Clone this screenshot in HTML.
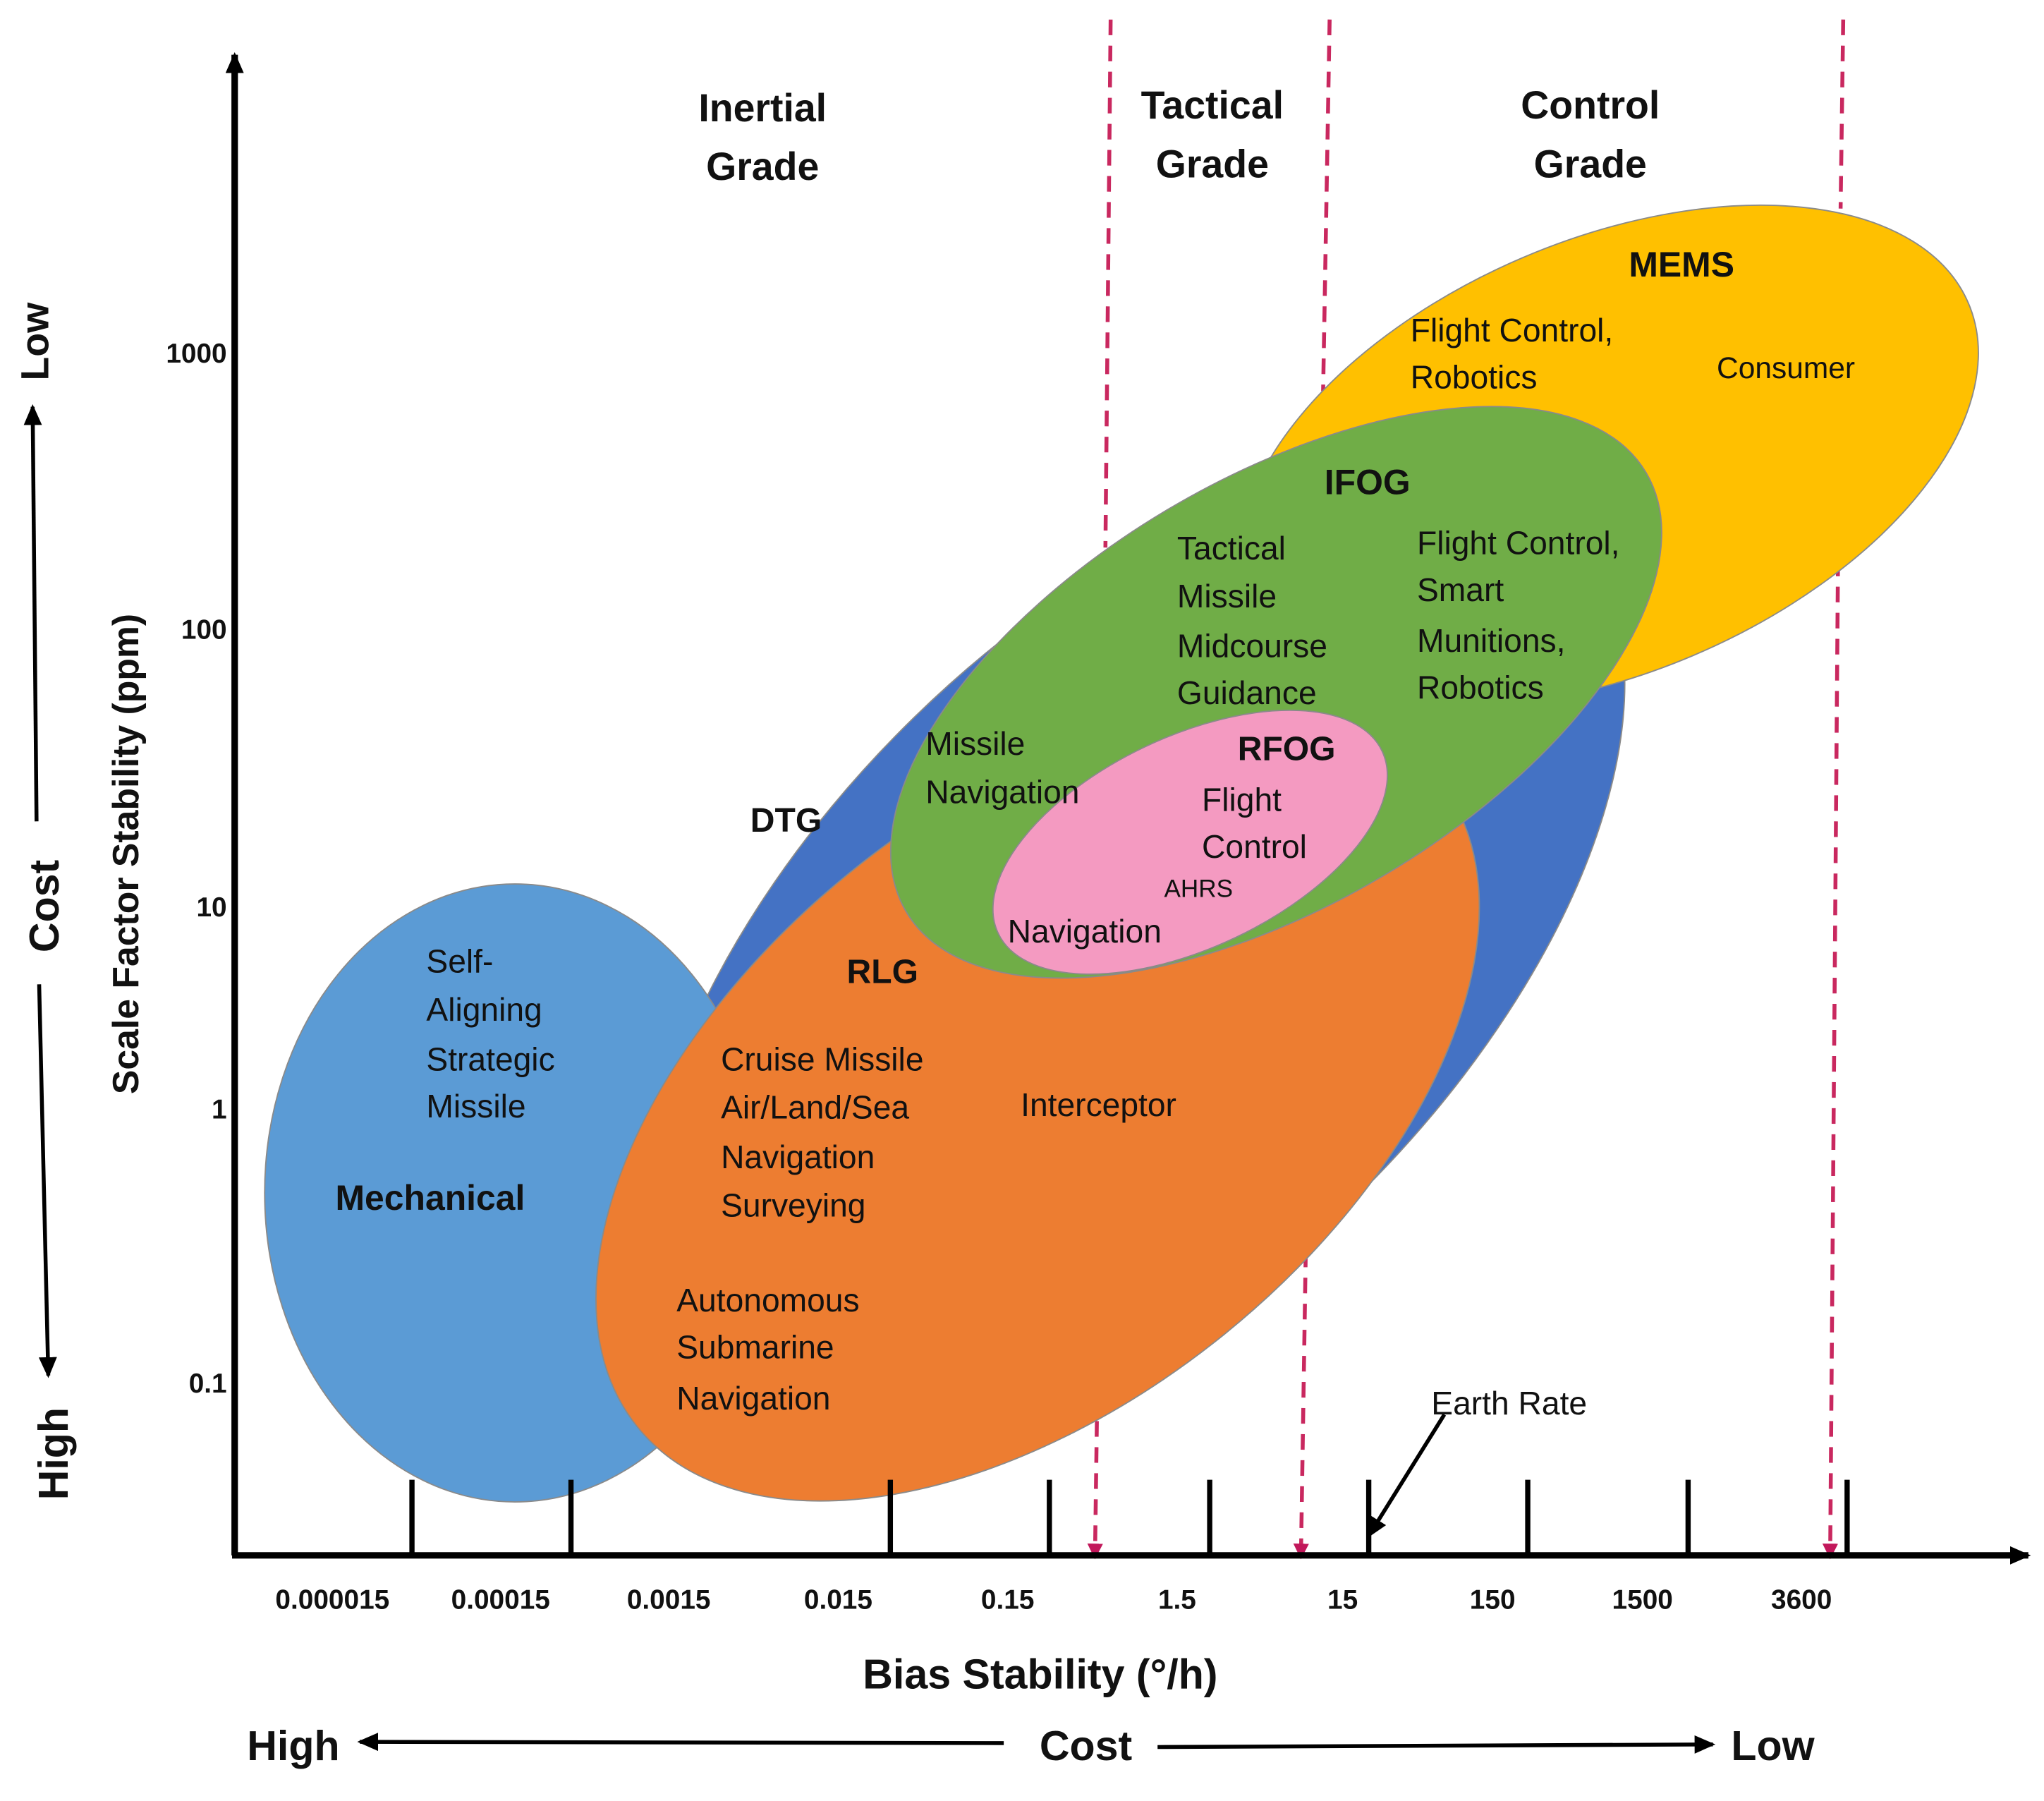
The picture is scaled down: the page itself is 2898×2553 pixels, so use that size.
<!DOCTYPE html>
<html><head><meta charset="utf-8"><style>
html,body{margin:0;padding:0;background:#fff}
svg{display:block}
text{font-family:"Liberation Sans",sans-serif;fill:#111}
.b{font-weight:bold}
</style></head><body>
<svg width="2898" height="2553" viewBox="0 0 1568 1381.4">
<defs>
<marker id="ah" markerUnits="userSpaceOnUse" markerWidth="16" markerHeight="14" refX="14" refY="7" orient="auto"><path d="M0,0 L16,7 L0,14 z" fill="#000"/></marker>
<marker id="ph" markerUnits="userSpaceOnUse" markerWidth="12" markerHeight="12" refX="10" refY="6" orient="auto"><path d="M0,0 L12,6 L0,12 z" fill="#c2185b"/></marker>
</defs>
<g id="dashes" stroke="#c9285f" stroke-width="3" stroke-dasharray="12,8" fill="none">
<line x1="852" y1="15" x2="848" y2="420"/>
<line x1="842" y1="1050" x2="840" y2="1194" marker-end="url(#ph)"/>
<line x1="1020" y1="15" x2="1015" y2="300"/>
<line x1="1002" y1="940" x2="998" y2="1194" marker-end="url(#ph)"/>
<line x1="1414" y1="15" x2="1412" y2="160"/>
<line x1="1410" y1="430" x2="1404" y2="1194" marker-end="url(#ph)"/>
</g>
<g id="ellipses"></g>
<g>
<line x1="180" y1="1193" x2="180" y2="42" stroke="#000" stroke-width="5" marker-end="url(#ah)"/>
<line x1="178" y1="1193" x2="1556" y2="1193" stroke="#000" stroke-width="5" marker-end="url(#ah)"/>
<g id="ticks" stroke="#000" stroke-width="4"></g>
</g>
<g id="labels" font-size="23"></g>
<g id="xticklabels" font-size="21" class="b"></g>
<g id="yticklabels" font-size="21" class="b"></g>
<text x="798" y="1295" font-size="32" class="b" text-anchor="middle">Bias Stability (°/h)</text>
<text transform="translate(106,655) rotate(-90)" font-size="28" class="b" text-anchor="middle">Scale Factor Stability (ppm)</text>
<g>
<text x="225" y="1350" font-size="32" class="b" text-anchor="middle">High</text>
<line x1="770" y1="1337" x2="276" y2="1336" stroke="#000" stroke-width="3" marker-end="url(#ah)"/>
<text x="833" y="1350" font-size="32" class="b" text-anchor="middle">Cost</text>
<line x1="888" y1="1340" x2="1314" y2="1338" stroke="#000" stroke-width="3" marker-end="url(#ah)"/>
<text x="1360" y="1350" font-size="32" class="b" text-anchor="middle">Low</text>
</g>
<g>
<text transform="translate(37,262) rotate(-90)" font-size="30" class="b" text-anchor="middle">Low</text>
<line x1="28" y1="630" x2="25" y2="312" stroke="#000" stroke-width="3" marker-end="url(#ah)"/>
<text transform="translate(45,695) rotate(-90)" font-size="32" class="b" text-anchor="middle">Cost</text>
<line x1="30" y1="755" x2="37" y2="1055" stroke="#000" stroke-width="3" marker-end="url(#ah)"/>
<text transform="translate(52,1115) rotate(-90)" font-size="32" class="b" text-anchor="middle">High</text>
</g>
<g>
<line x1="1108" y1="1085" x2="1050" y2="1178" stroke="#000" stroke-width="3" marker-end="url(#ah)"/>
<text x="1098" y="1085" font-size="25">Earth Rate</text>
</g>
<script>
const NS='http://www.w3.org/2000/svg';
const xTicks=['0.000015','0.00015','0.0015','0.015','0.15','1.5','15','150','1500','3600'];
const xTickLabelPos=[255,384,513,643,773,903,1030,1145,1260,1382];
const tickMarks=[316,438,683,805,928,1050,1172,1295,1417];
const yTicks=['1000','100','10','1','0.1'];
const yTickPos=[278,490,703,858,1068];
const ell=[
 ['dtg-ellipse','#4472c4',870,735,470,250,-45],
 ['mechanical-ellipse','#5b9bd5',395,915,192,237,0],
 ['rlg-ellipse','#ed7d31',796,846,395,228,-39],
 ['mems-ellipse','#ffc000',1234,350,300,166,-23],
 ['ifog-ellipse','#70ad47',979,531,330,163,-30.7],
 ['rfog-ellipse','#f49ac1',913,646,163,81,-25.4]
];
const eg=document.getElementById('ellipses');
ell.forEach(e=>{const el=document.createElementNS(NS,'ellipse');
el.setAttribute('cx',e[2]);el.setAttribute('cy',e[3]);el.setAttribute('rx',e[4]);el.setAttribute('ry',e[5]);
el.setAttribute('transform','rotate('+e[6]+' '+e[2]+' '+e[3]+')');el.setAttribute('fill',e[1]);el.setAttribute('stroke','#8a8a8a');el.setAttribute('stroke-width','1');


eg.appendChild(el);});
const tg=document.getElementById('ticks');
tickMarks.forEach(x=>{const l=document.createElementNS(NS,'line');l.setAttribute('x1',x);l.setAttribute('x2',x);l.setAttribute('y1',1135);l.setAttribute('y2',1193);


tg.appendChild(l);});
function txt(g,x,y,s,cls,anchor,size){const t=document.createElementNS(NS,'text');t.setAttribute('x',x);t.setAttribute('y',y);t.textContent=s;if(cls)t.setAttribute('class',cls);if(anchor)t.setAttribute('text-anchor',anchor);if(size)t.setAttribute('font-size',size);g.appendChild(t);return t;}
const xg=document.getElementById('xticklabels');
xTicks.forEach((s,i)=>{const t=txt(xg,xTickLabelPos[i],1234,s,null,'middle');

});
const yg=document.getElementById('yticklabels');
yTicks.forEach((s,i)=>{const t=txt(yg,174,yTickPos[i],s,null,'end');

});
const labels=[
 [585,93,'Inertial','b',30,'middle'],[585,138,'Grade','b',30,'middle'],
 [930,91,'Tactical','b',30,'middle'],[930,136,'Grade','b',30,'middle'],
 [1220,91,'Control','b',30,'middle'],[1220,136,'Grade','b',30,'middle'],
 [1290,212,'MEMS','b',27,'middle'],
 [1082,262,'Flight Control,',null,25],[1082,298,'Robotics',null,25],[1317,290,'Consumer'],
 [1049,379,'IFOG','b',27,'middle'],
 [903,429,'Tactical',null,25],[903,466,'Missile',null,25],[903,504,'Midcourse',null,25],[903,540,'Guidance',null,25],
 [1087,425,'Flight Control,',null,25],[1087,461,'Smart',null,25],[1087,500,'Munitions,',null,25],[1087,536,'Robotics',null,25],
 [710,579,'Missile',null,25],[710,616,'Navigation',null,25],
 [987,583,'RFOG','b',26,'middle'],
 [922,622,'Flight',null,25],[922,658,'Control',null,25],[893,688,'AHRS',null,19],[773,723,'Navigation',null,25],
 [603,638,'DTG','b',26,'middle'],
 [677,754,'RLG','b',26,'middle'],
 [327,746,'Self-',null,25],[327,783,'Aligning',null,25],[327,821,'Strategic',null,25],[327,857,'Missile',null,25],
 [330,928,'Mechanical','b',27,'middle'],
 [553,821,'Cruise Missile',null,25],[553,858,'Air/Land/Sea',null,25],[553,896,'Navigation',null,25],[553,933,'Surveying',null,25],
 [783,856,'Interceptor',null,25],
 [519,1006,'Autonomous',null,25],[519,1042,'Submarine',null,25],[519,1081,'Navigation',null,25]
];
const lg=document.getElementById('labels');
labels.forEach(l=>{const t=txt(lg,l[0],l[1],l[2],l[3],l[5],l[4]);

});
</script>
</svg>
</body></html>
